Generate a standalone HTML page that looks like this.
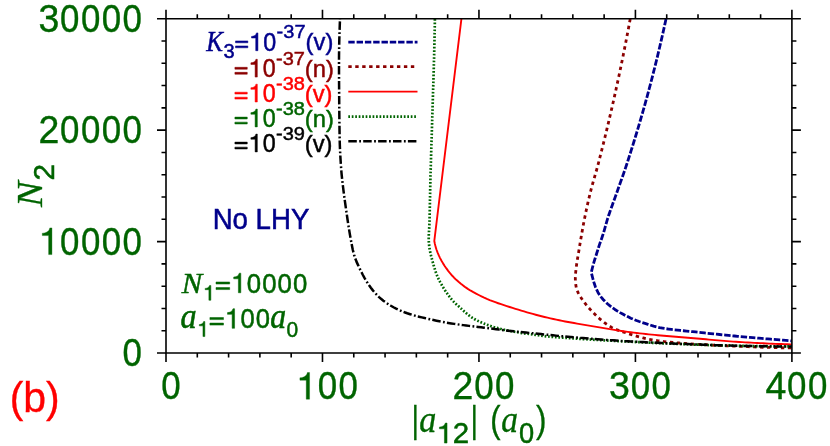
<!DOCTYPE html>
<html><head><meta charset="utf-8"><title>chart</title>
<style>html,body{margin:0;padding:0;background:#fff}svg{display:block;will-change:transform}text{font-family:"Liberation Sans", sans-serif}text.it{font-family:"Liberation Serif", serif;font-style:italic}</style></head><body>
<svg width="830" height="446" viewBox="0 0 830 446">
<rect x="0" y="0" width="830" height="446" fill="#ffffff"/>
<g fill="none" stroke-linejoin="round">
<path d="M666.00 19.00 L665.36 21.96 L664.72 24.91 L664.07 27.86 L663.42 30.82 L662.75 33.77 L662.09 36.71 L661.41 39.66 L660.73 42.61 L660.05 45.55 L659.35 48.49 L658.65 51.43 L657.95 54.37 L657.24 57.31 L656.52 60.24 L655.80 63.17 L655.07 66.10 L654.33 69.03 L653.59 71.96 L652.84 74.89 L652.09 77.81 L651.33 80.73 L650.57 83.65 L649.79 86.57 L649.01 89.49 L648.23 92.40 L647.44 95.32 L646.64 98.23 L645.83 101.15 L645.02 104.06 L644.20 106.97 L643.37 109.87 L642.54 112.78 L641.71 115.69 L640.86 118.59 L640.01 121.49 L639.16 124.39 L638.30 127.29 L637.43 130.18 L636.56 133.08 L635.68 135.97 L634.79 138.86 L633.90 141.75 L633.01 144.64 L632.11 147.52 L631.20 150.40 L630.29 153.29 L629.38 156.16 L628.46 159.04 L627.53 161.91 L626.59 164.78 L625.63 167.64 L624.65 170.50 L623.66 173.36 L622.65 176.21 L621.64 179.05 L620.62 181.90 L619.61 184.75 L618.59 187.59 L617.58 190.44 L616.57 193.29 L615.55 196.13 L614.52 198.98 L613.48 201.82 L612.45 204.66 L611.42 207.50 L610.41 210.35 L609.42 213.20 L608.46 216.06 L607.55 218.94 L606.68 221.83 L605.84 224.74 L605.03 227.65 L604.20 230.56 L603.33 233.45 L602.41 236.32 L601.41 239.17 L600.39 242.02 L599.40 244.87 L598.47 247.75 L597.58 250.63 L596.67 253.52 L595.75 256.40 L594.83 259.28 L593.95 262.17 L593.13 265.07 L592.37 267.99 L591.65 270.93 L591.30 272.40 L592.01 275.34 L592.76 278.27 L593.56 281.19 L594.46 284.08 L595.48 286.94 L596.65 289.74 L598.00 292.43 L599.58 294.99 L601.39 297.42 L603.37 299.72 L605.48 301.90 L607.70 303.96 L610.03 305.90 L612.44 307.74 L614.92 309.46 L617.47 311.08 L620.08 312.62 L622.73 314.09 L625.41 315.51 L628.11 316.87 L630.84 318.18 L633.61 319.40 L636.41 320.52 L639.25 321.54 L642.13 322.47 L645.02 323.38 L647.91 324.30 L650.79 325.24 L653.67 326.15 L656.58 326.94 L659.52 327.59 L662.50 328.13 L665.49 328.61 L668.49 329.04 L671.49 329.44 L674.49 329.80 L677.49 330.14 L680.50 330.45 L683.51 330.75 L686.52 331.05 L689.53 331.35 L692.54 331.67 L695.55 331.98 L698.56 332.30 L701.56 332.62 L704.57 332.94 L707.58 333.26 L710.59 333.57 L713.59 333.89 L716.60 334.20 L719.61 334.51 L722.62 334.82 L725.63 335.12 L728.64 335.42 L731.64 335.71 L734.65 336.00 L737.66 336.29 L740.68 336.57 L743.69 336.84 L746.70 337.12 L749.71 337.39 L752.72 337.66 L755.73 337.93 L758.75 338.19 L761.76 338.45 L764.77 338.71 L767.78 338.97 L770.80 339.22 L773.81 339.47 L776.83 339.72 L779.84 339.96 L782.85 340.20 L785.87 340.44 L788.88 340.67 L791.90 340.90" stroke="#00008b" stroke-width="2.8" stroke-dasharray="6.4 1.9"/>
<path d="M630.20 19.00 L629.65 21.97 L629.10 24.93 L628.55 27.90 L627.99 30.87 L627.42 33.83 L626.86 36.79 L626.28 39.75 L625.71 42.72 L625.12 45.68 L624.54 48.64 L623.95 51.59 L623.36 54.55 L622.76 57.51 L622.16 60.46 L621.55 63.42 L620.94 66.37 L620.32 69.32 L619.70 72.28 L619.08 75.23 L618.45 78.18 L617.82 81.12 L617.18 84.07 L616.54 87.02 L615.90 89.96 L615.25 92.91 L614.60 95.85 L613.94 98.80 L613.28 101.74 L612.61 104.68 L611.94 107.62 L611.27 110.56 L610.59 113.50 L609.90 116.44 L609.22 119.38 L608.53 122.32 L607.83 125.25 L607.13 128.19 L606.42 131.12 L605.71 134.05 L605.00 136.99 L604.28 139.92 L603.56 142.85 L602.83 145.77 L602.10 148.70 L601.37 151.62 L600.63 154.55 L599.88 157.47 L599.14 160.39 L598.38 163.31 L597.61 166.23 L596.82 169.14 L596.00 172.04 L595.17 174.94 L594.33 177.84 L593.50 180.74 L592.67 183.64 L591.87 186.55 L591.10 189.46 L590.36 192.39 L589.64 195.32 L588.95 198.25 L588.26 201.19 L587.60 204.13 L586.94 207.08 L586.31 210.03 L585.68 212.98 L585.08 215.93 L584.48 218.89 L583.91 221.85 L583.34 224.81 L582.79 227.78 L582.26 230.75 L581.73 233.72 L581.21 236.69 L580.70 239.66 L580.20 242.64 L579.71 245.61 L579.23 248.59 L578.75 251.57 L578.24 254.55 L577.72 257.52 L577.21 260.49 L576.76 263.47 L576.36 266.46 L576.00 269.46 L575.67 272.47 L575.42 275.48 L575.32 278.49 L575.42 281.52 L575.74 284.54 L576.27 287.50 L577.10 290.35 L578.32 293.09 L579.82 295.74 L581.44 298.32 L583.14 300.82 L584.94 303.24 L586.84 305.58 L588.82 307.86 L590.87 310.08 L592.96 312.27 L595.08 314.42 L597.24 316.53 L599.46 318.59 L601.75 320.56 L604.11 322.43 L606.55 324.21 L609.08 325.89 L611.68 327.41 L614.36 328.73 L617.13 329.87 L619.97 330.89 L622.85 331.84 L625.74 332.76 L628.63 333.68 L631.51 334.60 L634.39 335.50 L637.28 336.36 L640.19 337.16 L643.11 337.90 L646.05 338.58 L649.00 339.21 L651.96 339.80 L654.93 340.32 L657.91 340.78 L660.90 341.18 L663.89 341.54 L666.89 341.87 L669.90 342.17 L672.90 342.46 L675.90 342.73 L678.91 342.99 L681.92 343.22 L684.92 343.45 L687.93 343.66 L690.94 343.86 L693.95 344.05 L696.96 344.24 L699.97 344.42 L702.98 344.60 L706.00 344.77 L709.01 344.94 L712.02 345.10 L715.03 345.26 L718.05 345.42 L721.06 345.56 L724.07 345.71 L727.09 345.85 L730.10 345.98 L733.11 346.11 L736.13 346.23 L739.14 346.35 L742.15 346.47 L745.17 346.59 L748.18 346.70 L751.20 346.81 L754.21 346.92 L757.22 347.02 L760.24 347.13 L763.25 347.23 L766.27 347.32 L769.28 347.42 L772.30 347.51 L775.31 347.60 L778.33 347.68 L781.34 347.76 L784.36 347.83 L787.38 347.90 L790.39 347.97 L791.90 348.00" stroke="#8b0000" stroke-width="2.8" stroke-dasharray="3.4 3.55"/>
<path d="M461.40 19.00 L434.30 241.00 L434.91 243.97 L435.64 246.89 L436.54 249.77 L437.61 252.60 L438.80 255.38 L440.09 258.12 L441.50 260.79 L443.03 263.39 L444.67 265.93 L446.39 268.42 L448.17 270.86 L450.05 273.23 L452.02 275.52 L454.10 277.71 L456.27 279.81 L458.53 281.82 L460.86 283.75 L463.24 285.62 L465.67 287.41 L468.17 289.11 L470.73 290.70 L473.36 292.18 L476.04 293.60 L478.73 294.98 L481.43 296.34 L484.15 297.67 L486.89 298.92 L489.67 300.10 L492.49 301.19 L495.33 302.23 L498.18 303.23 L501.04 304.20 L503.91 305.15 L506.79 306.07 L509.66 307.00 L512.54 307.91 L515.43 308.81 L518.31 309.70 L521.21 310.57 L524.10 311.44 L527.00 312.29 L529.91 313.13 L532.82 313.95 L535.73 314.74 L538.65 315.51 L541.58 316.26 L544.51 316.98 L547.45 317.69 L550.39 318.38 L553.34 319.04 L556.29 319.68 L559.25 320.30 L562.21 320.88 L565.18 321.45 L568.15 322.00 L571.12 322.53 L574.10 323.06 L577.08 323.59 L580.05 324.11 L583.03 324.63 L586.01 325.14 L588.98 325.65 L591.96 326.15 L594.94 326.65 L597.92 327.14 L600.91 327.63 L603.89 328.13 L606.87 328.64 L609.85 329.14 L612.83 329.64 L615.81 330.12 L618.79 330.60 L621.78 331.05 L624.77 331.49 L627.76 331.89 L630.76 332.28 L633.75 332.65 L636.75 333.00 L639.76 333.35 L642.76 333.68 L645.76 334.00 L648.77 334.32 L651.78 334.62 L654.78 334.92 L657.79 335.20 L660.80 335.48 L663.81 335.75 L666.82 336.01 L669.83 336.26 L672.84 336.51 L675.85 336.75 L678.86 336.99 L681.88 337.24 L684.89 337.48 L687.90 337.73 L690.91 337.98 L693.92 338.24 L696.93 338.50 L699.94 338.77 L702.95 339.05 L705.96 339.32 L708.97 339.60 L711.98 339.87 L714.99 340.14 L718.00 340.41 L721.01 340.66 L724.02 340.91 L727.03 341.15 L730.04 341.38 L733.06 341.59 L736.07 341.79 L739.08 341.98 L742.10 342.16 L745.11 342.33 L748.13 342.50 L751.14 342.67 L754.16 342.83 L757.18 342.99 L760.19 343.15 L763.21 343.30 L766.23 343.44 L769.25 343.58 L772.27 343.71 L775.29 343.84 L778.31 343.96 L781.33 344.07 L784.35 344.17 L787.37 344.27 L790.39 344.36 L791.90 344.40" stroke="#ff0000" stroke-width="1.9"/>
<path d="M434.90 19.00 L434.85 22.01 L434.79 25.01 L434.73 28.02 L434.67 31.03 L434.61 34.04 L434.55 37.04 L434.48 40.05 L434.42 43.06 L434.35 46.06 L434.28 49.07 L434.21 52.08 L434.13 55.08 L434.06 58.09 L433.98 61.10 L433.89 64.10 L433.81 67.11 L433.72 70.12 L433.64 73.12 L433.54 76.13 L433.45 79.14 L433.36 82.14 L433.27 85.15 L433.17 88.16 L433.08 91.16 L432.99 94.17 L432.89 97.17 L432.80 100.18 L432.71 103.19 L432.61 106.19 L432.52 109.20 L432.43 112.21 L432.34 115.21 L432.25 118.22 L432.16 121.23 L432.07 124.23 L431.97 127.24 L431.88 130.24 L431.79 133.25 L431.69 136.26 L431.60 139.26 L431.50 142.27 L431.41 145.28 L431.32 148.28 L431.22 151.29 L431.13 154.29 L431.04 157.30 L430.95 160.31 L430.86 163.31 L430.78 166.32 L430.69 169.33 L430.61 172.33 L430.52 175.34 L430.44 178.35 L430.37 181.35 L430.29 184.36 L430.23 187.37 L430.16 190.38 L430.10 193.38 L430.05 196.39 L429.99 199.40 L429.93 202.41 L429.87 205.41 L429.81 208.42 L429.74 211.43 L429.67 214.43 L429.60 217.44 L429.51 220.45 L429.42 223.45 L429.30 226.46 L429.13 229.46 L428.93 232.46 L428.77 235.47 L428.72 238.47 L428.81 241.48 L429.02 244.48 L429.38 247.46 L429.87 250.43 L430.49 253.38 L431.19 256.30 L431.97 259.21 L432.77 262.11 L433.59 265.01 L434.44 267.90 L435.33 270.77 L436.31 273.61 L437.41 276.40 L438.65 279.13 L440.02 281.82 L441.48 284.46 L443.00 287.07 L444.57 289.64 L446.22 292.16 L447.95 294.62 L449.75 297.03 L451.64 299.38 L453.63 301.63 L455.76 303.74 L458.00 305.74 L460.25 307.75 L462.45 309.80 L464.67 311.83 L466.96 313.81 L469.33 315.69 L471.77 317.44 L474.30 319.02 L476.94 320.43 L479.66 321.72 L482.44 322.91 L485.24 324.03 L488.06 325.09 L490.90 326.09 L493.77 327.01 L496.65 327.86 L499.55 328.64 L502.47 329.36 L505.41 330.03 L508.35 330.66 L511.31 331.25 L514.26 331.79 L517.23 332.29 L520.20 332.76 L523.18 333.19 L526.16 333.61 L529.14 334.02 L532.12 334.43 L535.10 334.85 L538.08 335.27 L541.06 335.68 L544.04 336.06 L547.03 336.40 L550.02 336.69 L553.01 336.96 L556.01 337.20 L559.01 337.43 L562.01 337.65 L565.01 337.86 L568.01 338.07 L571.02 338.27 L574.02 338.47 L577.02 338.67 L580.02 338.86 L583.02 339.06 L586.02 339.25 L589.02 339.43 L592.03 339.61 L595.03 339.80 L598.03 339.97 L601.03 340.15 L604.04 340.32 L607.04 340.49 L610.04 340.66 L613.05 340.82 L616.05 340.98 L619.05 341.14 L622.06 341.30 L625.06 341.46 L628.06 341.61 L631.07 341.77 L634.07 341.92 L637.08 342.07 L640.08 342.22 L643.08 342.37 L646.09 342.52 L649.09 342.66 L652.10 342.81 L655.10 342.95 L658.11 343.09 L661.11 343.22 L664.12 343.36 L667.12 343.49 L670.13 343.62 L673.13 343.75 L676.14 343.87 L679.14 343.99 L682.15 344.11 L685.15 344.22 L688.16 344.33 L691.16 344.44 L694.17 344.55 L697.18 344.65 L700.18 344.76 L703.19 344.86 L706.19 344.96 L709.20 345.06 L712.21 345.16 L715.21 345.25 L718.22 345.34 L721.23 345.43 L724.23 345.51 L727.24 345.58 L730.25 345.65 L733.25 345.72 L736.26 345.77 L739.27 345.82 L742.27 345.87 L745.28 345.92 L748.29 345.97 L751.30 346.01 L754.30 346.06 L757.31 346.10 L760.32 346.14 L763.33 346.18 L766.33 346.22 L769.34 346.25 L772.35 346.28 L775.36 346.31 L778.36 346.34 L781.37 346.36 L784.38 346.37 L787.39 346.39 L790.40 346.40 L791.90 346.40" stroke="#006400" stroke-width="2.7" stroke-dasharray="1.7 1.77"/>
<path d="M340.00 19.00 L339.89 22.01 L339.78 25.02 L339.67 28.03 L339.57 31.04 L339.47 34.05 L339.39 37.06 L339.30 40.07 L339.23 43.08 L339.17 46.09 L339.11 49.10 L339.07 52.11 L339.03 55.12 L339.01 58.13 L339.00 61.14 L339.00 64.15 L339.01 67.16 L339.01 70.17 L339.02 73.18 L339.04 76.19 L339.05 79.20 L339.07 82.21 L339.09 85.22 L339.11 88.23 L339.13 91.24 L339.16 94.25 L339.18 97.26 L339.20 100.27 L339.22 103.28 L339.25 106.30 L339.27 109.31 L339.30 112.32 L339.33 115.33 L339.36 118.34 L339.40 121.35 L339.44 124.36 L339.48 127.37 L339.52 130.38 L339.57 133.39 L339.63 136.40 L339.69 139.41 L339.76 142.42 L339.85 145.43 L339.97 148.43 L340.10 151.44 L340.26 154.45 L340.42 157.46 L340.61 160.47 L340.80 163.47 L341.00 166.47 L341.22 169.48 L341.46 172.48 L341.73 175.47 L342.05 178.47 L342.38 181.46 L342.73 184.45 L343.09 187.44 L343.46 190.43 L343.84 193.41 L344.24 196.40 L344.65 199.38 L345.07 202.36 L345.49 205.34 L345.92 208.32 L346.34 211.30 L346.77 214.29 L347.21 217.27 L347.64 220.25 L348.09 223.23 L348.55 226.20 L349.02 229.18 L349.51 232.14 L350.02 235.11 L350.55 238.07 L351.08 241.04 L351.64 244.02 L352.22 246.99 L352.84 249.94 L353.53 252.86 L354.32 255.75 L355.27 258.58 L356.39 261.37 L357.62 264.13 L358.90 266.87 L360.19 269.59 L361.52 272.30 L362.89 274.98 L364.33 277.62 L365.84 280.23 L367.44 282.79 L369.10 285.31 L370.85 287.75 L372.69 290.13 L374.63 292.45 L376.66 294.69 L378.79 296.82 L381.01 298.83 L383.35 300.72 L385.78 302.51 L388.30 304.18 L390.87 305.76 L393.48 307.25 L396.15 308.65 L398.87 309.96 L401.63 311.16 L404.43 312.26 L407.26 313.27 L410.13 314.20 L413.02 315.08 L415.92 315.90 L418.83 316.67 L421.75 317.40 L424.68 318.09 L427.62 318.76 L430.56 319.41 L433.50 320.06 L436.44 320.68 L439.39 321.29 L442.35 321.87 L445.31 322.42 L448.27 322.93 L451.24 323.41 L454.22 323.87 L457.20 324.31 L460.18 324.73 L463.17 325.13 L466.15 325.51 L469.14 325.87 L472.13 326.21 L475.12 326.55 L478.11 326.90 L481.10 327.27 L484.09 327.64 L487.07 328.04 L490.06 328.43 L493.04 328.83 L496.03 329.21 L499.02 329.59 L502.00 329.96 L504.99 330.32 L507.98 330.68 L510.97 331.03 L513.96 331.36 L516.96 331.68 L519.95 331.99 L522.95 332.29 L525.94 332.58 L528.94 332.88 L531.94 333.17 L534.93 333.48 L537.93 333.78 L540.92 334.08 L543.92 334.39 L546.91 334.69 L549.91 335.00 L552.90 335.30 L555.90 335.62 L558.89 335.93 L561.89 336.23 L564.88 336.53 L567.88 336.81 L570.88 337.08 L573.88 337.34 L576.88 337.59 L579.88 337.85 L582.88 338.10 L585.88 338.34 L588.88 338.58 L591.88 338.82 L594.88 339.06 L597.88 339.29 L600.89 339.51 L603.89 339.73 L606.89 339.95 L609.90 340.16 L612.90 340.37 L615.91 340.57 L618.91 340.76 L621.91 340.95 L624.92 341.13 L627.92 341.31 L630.93 341.48 L633.93 341.64 L636.94 341.81 L639.95 341.97 L642.95 342.12 L645.96 342.28 L648.97 342.42 L651.97 342.57 L654.98 342.71 L657.99 342.85 L661.00 342.99 L664.00 343.13 L667.01 343.26 L670.02 343.39 L673.03 343.52 L676.04 343.64 L679.04 343.77 L682.05 343.89 L685.06 344.01 L688.07 344.12 L691.08 344.24 L694.09 344.36 L697.09 344.48 L700.10 344.59 L703.11 344.71 L706.12 344.82 L709.13 344.93 L712.14 345.04 L715.15 345.15 L718.15 345.25 L721.16 345.35 L724.17 345.45 L727.18 345.54 L730.19 345.62 L733.20 345.70 L736.21 345.77 L739.22 345.83 L742.23 345.89 L745.24 345.95 L748.25 346.01 L751.26 346.07 L754.27 346.13 L757.28 346.18 L760.29 346.23 L763.30 346.28 L766.31 346.33 L769.32 346.37 L772.33 346.42 L775.34 346.45 L778.35 346.49 L781.36 346.52 L784.37 346.55 L787.38 346.57 L790.39 346.59 L791.90 346.60" stroke="#000000" stroke-width="2.5" stroke-dasharray="8.5 2.4 1.8 2.2" stroke-dashoffset="-2.4"/>
</g>
<g fill="none">
<path d="M348.3 42.2H417.5" stroke="#00008b" stroke-width="2.8" stroke-dasharray="6.4 1.9"/>
<path d="M348.3 66.6H417.5" stroke="#8b0000" stroke-width="2.8" stroke-dasharray="3.4 3.55"/>
<path d="M348.3 91.6H417.5" stroke="#ff0000" stroke-width="1.9"/>
<path d="M348.3 116.6H417.5" stroke="#006400" stroke-width="2.7" stroke-dasharray="1.7 1.77"/>
<path d="M348.3 141.2H417.5" stroke="#000000" stroke-width="2.5" stroke-dasharray="8.5 2.4 1.8 2.2"/>
</g>
<path d="M166.00 18.70H791.90V353.05H166.00Z" fill="none" stroke="#000" stroke-width="1.60"/>
<path d="M166.00 353.05v9.00M166.00 18.70v-9.00M197.30 353.05v4.50M197.30 18.70v-4.50M228.59 353.05v4.50M228.59 18.70v-4.50M259.88 353.05v4.50M259.88 18.70v-4.50M291.18 353.05v4.50M291.18 18.70v-4.50M322.48 353.05v9.00M322.48 18.70v-9.00M353.77 353.05v4.50M353.77 18.70v-4.50M385.06 353.05v4.50M385.06 18.70v-4.50M416.36 353.05v4.50M416.36 18.70v-4.50M447.65 353.05v4.50M447.65 18.70v-4.50M478.95 353.05v9.00M478.95 18.70v-9.00M510.25 353.05v4.50M510.25 18.70v-4.50M541.54 353.05v4.50M541.54 18.70v-4.50M572.84 353.05v4.50M572.84 18.70v-4.50M604.13 353.05v4.50M604.13 18.70v-4.50M635.42 353.05v9.00M635.42 18.70v-9.00M666.72 353.05v4.50M666.72 18.70v-4.50M698.01 353.05v4.50M698.01 18.70v-4.50M729.31 353.05v4.50M729.31 18.70v-4.50M760.61 353.05v4.50M760.61 18.70v-4.50M791.90 353.05v9.00M791.90 18.70v-9.00M166.00 353.05h-9.00M791.90 353.05h9.00M166.00 330.76h-4.50M791.90 330.76h4.50M166.00 308.47h-4.50M791.90 308.47h4.50M166.00 286.18h-4.50M791.90 286.18h4.50M166.00 263.89h-4.50M791.90 263.89h4.50M166.00 241.60h-9.00M791.90 241.60h9.00M166.00 219.31h-4.50M791.90 219.31h4.50M166.00 197.02h-4.50M791.90 197.02h4.50M166.00 174.73h-4.50M791.90 174.73h4.50M166.00 152.44h-4.50M791.90 152.44h4.50M166.00 130.15h-9.00M791.90 130.15h9.00M166.00 107.86h-4.50M791.90 107.86h4.50M166.00 85.57h-4.50M791.90 85.57h4.50M166.00 63.28h-4.50M791.90 63.28h4.50M166.00 40.99h-4.50M791.90 40.99h4.50M166.00 18.70h-9.00M791.90 18.70h9.00" fill="none" stroke="#000" stroke-width="1.60"/>
<text transform="translate(122.62 366.05) scale(0.930 1.035)" font-size="37.50" stroke-width="0.35" fill="#006400" stroke="#006400" letter-spacing="1.569">0</text>
<path d="M51.93 254.60 L48.63 254.60 L48.63 235.58 L42.30 235.58 L42.30 233.21 C45.60 232.98 49.05 231.85 49.80 227.90 L51.93 227.90 Z" fill="#006400" stroke="#006400" stroke-width="0.35"/>
<text transform="translate(60.05 254.60) scale(0.930 1.035)" font-size="37.50" stroke-width="0.35" fill="#006400" stroke="#006400" letter-spacing="1.569">0000</text>
<text transform="translate(38.47 143.15) scale(1.000 1.035)" font-size="37.50" stroke-width="0.35" fill="#006400" stroke="#006400">2</text>
<text transform="translate(60.06 143.15) scale(0.930 1.035)" font-size="37.50" stroke-width="0.35" fill="#006400" stroke="#006400" letter-spacing="1.569">0000</text>
<text transform="translate(38.47 31.70) scale(1.000 1.035)" font-size="37.50" stroke-width="0.35" fill="#006400" stroke="#006400">3</text>
<text transform="translate(60.06 31.70) scale(0.930 1.035)" font-size="37.50" stroke-width="0.35" fill="#006400" stroke="#006400" letter-spacing="1.569">0000</text>
<text transform="translate(161.20 399.20) scale(0.930 1.035)" font-size="37.50" stroke-width="0.35" fill="#006400" stroke="#006400" letter-spacing="1.569">0</text>
<path d="M309.55 399.20 L306.25 399.20 L306.25 380.18 L299.92 380.18 L299.92 377.81 C303.22 377.58 306.67 376.45 307.42 372.50 L309.55 372.50 Z" fill="#006400" stroke="#006400" stroke-width="0.35"/>
<text transform="translate(317.67 399.20) scale(0.930 1.035)" font-size="37.50" stroke-width="0.35" fill="#006400" stroke="#006400" letter-spacing="1.569">00</text>
<text transform="translate(452.57 399.20) scale(1.000 1.035)" font-size="37.50" stroke-width="0.35" fill="#006400" stroke="#006400">2</text>
<text transform="translate(474.15 399.20) scale(0.930 1.035)" font-size="37.50" stroke-width="0.35" fill="#006400" stroke="#006400" letter-spacing="1.569">00</text>
<text transform="translate(609.04 399.20) scale(1.000 1.035)" font-size="37.50" stroke-width="0.35" fill="#006400" stroke="#006400">3</text>
<text transform="translate(630.63 399.20) scale(0.930 1.035)" font-size="37.50" stroke-width="0.35" fill="#006400" stroke="#006400" letter-spacing="1.569">00</text>
<text transform="translate(765.52 399.20) scale(1.000 1.035)" font-size="37.50" stroke-width="0.35" fill="#006400" stroke="#006400">4</text>
<text transform="translate(787.10 399.20) scale(0.930 1.035)" font-size="37.50" stroke-width="0.35" fill="#006400" stroke="#006400" letter-spacing="1.569">00</text>
<g transform="translate(0 446) rotate(-90)">
<text transform="translate(239.03 42.45) scale(1.025 0.981)" font-size="37.50" stroke-width="0.35" class="it" fill="#006400" stroke="#006400">N</text>
<text transform="translate(265.45 53.75) scale(0.995 1.012)" font-size="30.00" stroke-width="0.50" fill="#006400" stroke="#006400">2</text>
</g>
<text transform="translate(411.72 432.17) scale(0.724 0.980)" font-size="37.50" stroke-width="0.35" fill="#006400" stroke="#006400">|</text>
<text transform="translate(419.33 432.16) scale(0.912 1.020)" font-size="37.50" stroke-width="0.35" class="it" fill="#006400" stroke="#006400">a</text>
<path d="M447.03 443.05 L444.43 443.05 L444.43 428.80 L439.45 428.80 L439.45 427.03 C442.04 426.86 444.76 426.01 445.35 423.05 L447.03 423.05 Z" fill="#006400" stroke="#006400" stroke-width="0.50"/>
<text transform="translate(452.83 443.05) scale(0.983 0.969)" font-size="30.00" stroke-width="0.50" fill="#006400" stroke="#006400">2</text>
<text transform="translate(470.82 432.17) scale(0.724 0.980)" font-size="37.50" stroke-width="0.35" fill="#006400" stroke="#006400">|</text>
<text transform="translate(490.13 432.47) scale(0.825 1.002)" font-size="37.50" stroke-width="0.35" fill="#006400" stroke="#006400">(</text>
<text transform="translate(501.35 432.26) scale(0.894 1.026)" font-size="37.50" stroke-width="0.35" class="it" fill="#006400" stroke="#006400">a</text>
<text transform="translate(518.98 443.46) scale(0.908 1.003)" font-size="30.00" stroke-width="0.50" fill="#006400" stroke="#006400" letter-spacing="1.255">0</text>
<text transform="translate(536.07 432.47) scale(0.835 1.002)" font-size="37.50" stroke-width="0.35" fill="#006400" stroke="#006400">)</text>
<text transform="translate(9.71 411.58) scale(0.974 0.997)" font-size="42.00" stroke-width="0.35" fill="#ff0000" stroke="#ff0000">(b)</text>
<text transform="translate(212.63 228.60) scale(1.005 1.052)" font-size="27.50" stroke-width="0.50" fill="#00008b" stroke="#00008b">No LHY</text>
<text transform="translate(181.77 293.05) scale(1.022 0.962)" font-size="30.00" stroke-width="0.50" class="it" fill="#006400" stroke="#006400">N</text>
<path d="M210.85 300.25 L208.90 300.25 L208.90 289.71 L205.15 289.71 L205.15 288.39 C207.10 288.27 209.14 287.64 209.59 285.45 L210.85 285.45 Z" fill="#006400" stroke="#006400" stroke-width="0.50"/>
<path d="M216.00 289.57 L229.67 289.57 L229.67 287.50 L216.00 287.50 ZM216.00 284.05 L229.67 284.05 L229.67 281.98 L216.00 281.98 Z" fill="#006400" stroke="#006400" stroke-width="0.50"/>
<path d="M240.82 292.75 L238.38 292.75 L238.38 278.80 L233.71 278.80 L233.71 277.06 C236.14 276.90 238.69 276.07 239.24 273.17 L240.82 273.17 Z" fill="#006400" stroke="#006400" stroke-width="0.50"/>
<text transform="translate(246.80 292.75) scale(0.936 1.035)" font-size="27.50" stroke-width="0.50" fill="#006400" stroke="#006400" letter-spacing="1.151">0000</text>
<text transform="translate(180.59 328.39) scale(1.071 1.185)" font-size="30.00" stroke-width="0.50" class="it" fill="#006400" stroke="#006400">a</text>
<path d="M204.85 336.55 L202.97 336.55 L202.97 325.87 L199.35 325.87 L199.35 324.53 C201.23 324.41 203.20 323.77 203.63 321.55 L204.85 321.55 Z" fill="#006400" stroke="#006400" stroke-width="0.50"/>
<path d="M209.90 325.12 L223.49 325.12 L223.49 323.05 L209.90 323.05 ZM209.90 319.60 L223.49 319.60 L223.49 317.53 L209.90 317.53 Z" fill="#006400" stroke="#006400" stroke-width="0.50"/>
<path d="M234.57 328.30 L232.15 328.30 L232.15 314.35 L227.50 314.35 L227.50 312.61 C229.92 312.45 232.45 311.62 233.00 308.72 L234.57 308.72 Z" fill="#006400" stroke="#006400" stroke-width="0.50"/>
<text transform="translate(240.52 328.30) scale(0.930 1.035)" font-size="27.50" stroke-width="0.50" fill="#006400" stroke="#006400" letter-spacing="1.151">00</text>
<text transform="translate(270.31 328.38) scale(1.056 1.192)" font-size="30.00" stroke-width="0.50" class="it" fill="#006400" stroke="#006400">a</text>
<text transform="translate(286.41 336.93) scale(0.955 1.034)" font-size="22.00" stroke-width="0.50" fill="#006400" stroke="#006400" letter-spacing="0.921">0</text>
<text transform="translate(206.34 50.55) scale(0.836 0.972)" font-size="30.00" stroke-width="0.50" class="it" fill="#00008b" stroke="#00008b">K</text>
<text transform="translate(223.39 57.76) scale(1.002 0.975)" font-size="20.00" stroke-width="0.50" fill="#00008b" stroke="#00008b">3</text>
<path d="M235.50 47.81 L247.85 47.81 L247.85 45.93 L235.50 45.93 ZM235.50 42.79 L247.85 42.79 L247.85 40.91 L235.50 40.91 Z" fill="#00008b" stroke="#00008b" stroke-width="0.50"/>
<path d="M257.93 50.70 L255.72 50.70 L255.72 38.02 L251.50 38.02 L251.50 36.44 C253.70 36.29 256.00 35.53 256.50 32.90 L257.93 32.90 Z" fill="#00008b" stroke="#00008b" stroke-width="0.50"/>
<text transform="translate(263.34 50.70) scale(0.930 1.035)" font-size="25.00" stroke-width="0.50" fill="#00008b" stroke="#00008b" letter-spacing="1.046">0</text>
<text transform="translate(276.61 37.70) scale(1.000 0.940)" font-size="20.00" stroke-width="0.50" fill="#00008b" stroke="#00008b">-37</text>
<text transform="translate(305.61 50.10) scale(0.950 0.975)" font-size="25.00" stroke-width="0.50" fill="#00008b" stroke="#00008b">(v)</text>
<path d="M234.90 74.21 L247.25 74.21 L247.25 72.33 L234.90 72.33 ZM234.90 69.19 L247.25 69.19 L247.25 67.31 L234.90 67.31 Z" fill="#8b0000" stroke="#8b0000" stroke-width="0.50"/>
<path d="M257.32 77.10 L255.12 77.10 L255.12 64.42 L250.90 64.42 L250.90 62.84 C253.10 62.69 255.40 61.93 255.90 59.30 L257.32 59.30 Z" fill="#8b0000" stroke="#8b0000" stroke-width="0.50"/>
<text transform="translate(262.74 77.10) scale(0.930 1.035)" font-size="25.00" stroke-width="0.50" fill="#8b0000" stroke="#8b0000" letter-spacing="1.046">0</text>
<text transform="translate(276.01 65.10) scale(1.000 0.940)" font-size="20.00" stroke-width="0.50" fill="#8b0000" stroke="#8b0000">-37</text>
<text transform="translate(304.83 77.30) scale(0.950 0.975)" font-size="25.00" stroke-width="0.50" fill="#8b0000" stroke="#8b0000">(n)</text>
<path d="M234.90 99.11 L247.25 99.11 L247.25 97.23 L234.90 97.23 ZM234.90 94.09 L247.25 94.09 L247.25 92.21 L234.90 92.21 Z" fill="#ff0000" stroke="#ff0000" stroke-width="0.50"/>
<path d="M257.32 102.00 L255.12 102.00 L255.12 89.32 L250.90 89.32 L250.90 87.74 C253.10 87.59 255.40 86.83 255.90 84.20 L257.32 84.20 Z" fill="#ff0000" stroke="#ff0000" stroke-width="0.50"/>
<text transform="translate(262.74 102.00) scale(0.930 1.035)" font-size="25.00" stroke-width="0.50" fill="#ff0000" stroke="#ff0000" letter-spacing="1.046">0</text>
<text transform="translate(276.01 90.00) scale(1.000 0.940)" font-size="20.00" stroke-width="0.50" fill="#ff0000" stroke="#ff0000">-38</text>
<text transform="translate(304.83 102.20) scale(0.950 0.975)" font-size="25.00" stroke-width="0.50" fill="#ff0000" stroke="#ff0000">(v)</text>
<path d="M234.90 124.01 L247.25 124.01 L247.25 122.13 L234.90 122.13 ZM234.90 118.99 L247.25 118.99 L247.25 117.11 L234.90 117.11 Z" fill="#006400" stroke="#006400" stroke-width="0.50"/>
<path d="M257.32 126.90 L255.12 126.90 L255.12 114.22 L250.90 114.22 L250.90 112.64 C253.10 112.49 255.40 111.73 255.90 109.10 L257.32 109.10 Z" fill="#006400" stroke="#006400" stroke-width="0.50"/>
<text transform="translate(262.74 126.90) scale(0.930 1.035)" font-size="25.00" stroke-width="0.50" fill="#006400" stroke="#006400" letter-spacing="1.046">0</text>
<text transform="translate(276.01 114.90) scale(1.000 0.940)" font-size="20.00" stroke-width="0.50" fill="#006400" stroke="#006400">-38</text>
<text transform="translate(304.83 127.10) scale(0.950 0.975)" font-size="25.00" stroke-width="0.50" fill="#006400" stroke="#006400">(n)</text>
<path d="M234.90 149.01 L247.25 149.01 L247.25 147.13 L234.90 147.13 ZM234.90 143.99 L247.25 143.99 L247.25 142.11 L234.90 142.11 Z" fill="#000000" stroke="#000000" stroke-width="0.50"/>
<path d="M257.32 151.90 L255.12 151.90 L255.12 139.22 L250.90 139.22 L250.90 137.64 C253.10 137.49 255.40 136.73 255.90 134.10 L257.32 134.10 Z" fill="#000000" stroke="#000000" stroke-width="0.50"/>
<text transform="translate(262.74 151.90) scale(0.930 1.035)" font-size="25.00" stroke-width="0.50" fill="#000000" stroke="#000000" letter-spacing="1.046">0</text>
<text transform="translate(276.01 139.90) scale(1.000 0.940)" font-size="20.00" stroke-width="0.50" fill="#000000" stroke="#000000">-39</text>
<text transform="translate(304.83 152.10) scale(0.950 0.975)" font-size="25.00" stroke-width="0.50" fill="#000000" stroke="#000000">(v)</text>
</svg></body></html>
